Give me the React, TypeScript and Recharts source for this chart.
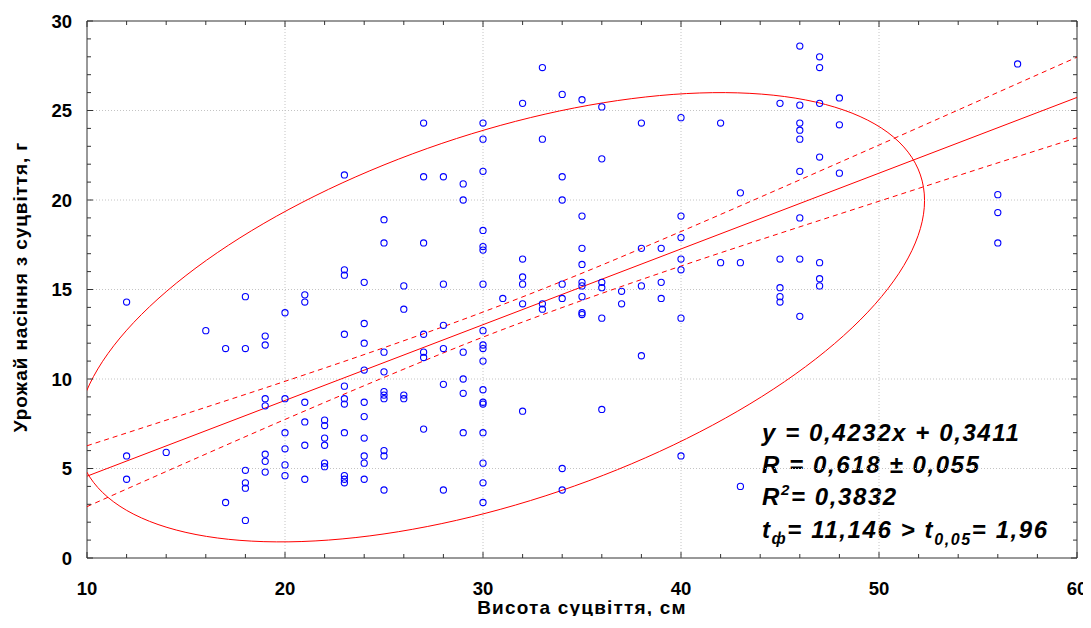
import React from 'react';
import {
  ComposedChart,
  XAxis,
  YAxis,
  Scatter,
  Line,
  ReferenceLine,
  ReferenceArea,
  Customized,
} from 'recharts';

// ---- data ----
const HEIGHTS = [12, 14, 16, 17, 18, 19, 20, 21, 22, 23, 24, 25, 26, 27, 28, 29, 30, 31, 32, 33, 34, 35, 36, 37, 38, 39, 40, 42, 43, 45, 46, 47, 48, 56, 57];
const YIELDS = [
  [14.3, 5.7, 4.4],
  [5.9],
  [12.7],
  [11.7, 3.1],
  [14.6, 11.7, 4.9, 4.2, 3.9, 2.1],
  [12.4, 11.9, 8.9, 8.5, 5.8, 5.4, 4.8],
  [13.7, 8.9, 7.0, 6.1, 5.2, 4.6],
  [14.7, 14.3, 8.7, 7.6, 6.3, 4.4],
  [7.7, 7.4, 6.7, 6.3, 5.3, 5.1],
  [21.4, 16.1, 15.8, 12.5, 9.6, 8.9, 8.6, 7.0, 4.6, 4.4, 4.2],
  [15.4, 13.1, 12.0, 10.5, 8.7, 7.9, 6.7, 5.7, 5.3, 4.4],
  [18.9, 17.6, 11.5, 10.4, 9.3, 9.1, 8.9, 6.0, 5.7, 3.8],
  [15.2, 13.9, 9.1, 8.9],
  [24.3, 21.3, 17.6, 12.5, 11.5, 11.2, 7.2],
  [21.3, 15.3, 13.0, 11.7, 9.7, 3.8],
  [20.9, 20.0, 11.5, 10.0, 9.2, 7.0],
  [24.3, 23.4, 21.6, 18.3, 17.4, 17.2, 15.3, 12.7, 11.9, 11.7, 11.0, 9.4, 8.7, 8.6, 7.0, 5.3, 4.2, 3.1],
  [14.5],
  [25.4, 16.7, 15.7, 15.3, 14.2, 8.2],
  [27.4, 23.4, 14.2, 13.9],
  [25.9, 21.3, 20.0, 15.3, 14.5, 5.0, 3.8],
  [25.6, 19.1, 17.3, 16.4, 15.4, 15.2, 14.6, 13.7, 13.6],
  [25.2, 22.3, 15.4, 15.1, 13.4, 8.3],
  [14.9, 14.2],
  [24.3, 17.3, 15.2, 11.3],
  [17.3, 15.4, 14.5],
  [24.6, 19.1, 17.9, 16.7, 16.1, 13.4, 5.7],
  [24.3, 16.5],
  [20.4, 16.5, 4.0],
  [25.4, 16.7, 15.1, 14.6, 14.3],
  [28.6, 25.3, 24.3, 23.9, 23.4, 21.6, 19.0, 16.7, 13.5],
  [28.0, 27.4, 25.4, 22.4, 16.5, 15.6, 15.2],
  [25.7, 24.2, 21.5],
  [20.3, 19.3, 17.6],
  [27.6],
];

// regression line y = 0,4232x + 0,3411 (end points)
const FIT_X = [10, 60];
const FIT_Y = [4.57, 25.73];

// confidence band (dashed)
const BAND_X = [10, 15, 20, 25, 30, 35, 40, 45, 50, 55, 60];
const BAND_UPPER = [6.27, 8.06, 9.87, 11.75, 13.74, 15.91, 18.24, 20.64, 23.07, 25.52, 27.98];
const BAND_LOWER = [2.87, 5.32, 7.74, 10.09, 12.34, 14.39, 16.31, 18.14, 19.93, 21.72, 23.48];

// confidence ellipse: centre, half extents, phase (deg)
const ELLIPSE_CENTER = [30.9, 13.45];
const ELLIPSE_RADII = [21.4, 12.55];
const ELLIPSE_PHASE = 58.7;

const X_TICKS = [10, 12, 14, 16, 18, 20, 22, 24, 26, 28, 30, 32, 34, 36, 38, 40, 42, 44, 46, 48, 50, 52, 54, 56, 58, 60];
const Y_TICKS = [0, 1, 2, 3, 4, 5, 6, 7, 8, 9, 10, 11, 12, 13, 14, 15, 16, 17, 18, 19, 20, 21, 22, 23, 24, 25, 26, 27, 28, 29, 30];
const X_GRID = [20, 30, 40, 50];
const Y_GRID = [5, 10, 15, 20, 25];

// ---- derived tables ----
const scatterData = HEIGHTS.flatMap((h, i) => YIELDS[i].map((v) => ({ x: h, y: v })));
const fitData = FIT_X.map((x, i) => ({ x, y: FIT_Y[i] }));
const upperData = BAND_X.map((x, i) => ({ x, y: BAND_UPPER[i] }));
const lowerData = BAND_X.map((x, i) => ({ x, y: BAND_LOWER[i] }));
const ellipseData = Array.from({ length: 181 }, (_, k) => {
  const t = (k * 2 * Math.PI) / 180;
  const d = (ELLIPSE_PHASE * Math.PI) / 180;
  return {
    x: ELLIPSE_CENTER[0] + ELLIPSE_RADII[0] * Math.cos(t),
    y: ELLIPSE_CENTER[1] + ELLIPSE_RADII[1] * Math.cos(t - d),
  };
});

// ---- layout ----
const W = 1075;
const H = 608;
const PL = 79;
const PT = 13;
const PR = 1069;
const PB = 550;
const FONT = 'Liberation Sans, Arial, sans-serif';
const AXIS = '#333';

const XTick = (props: any) => {
  const { x, payload } = props;
  const v = payload.value;
  const major = v % 10 === 0;
  const len = major ? 6 : 4;
  return (
    <g>
      <line x1={x} y1={PB} x2={x} y2={PB - len} stroke={AXIS} strokeWidth={1} />
      <line x1={x} y1={PT} x2={x} y2={PT + len} stroke={AXIS} strokeWidth={1} />
      {major && (
        <text x={x} y={587} textAnchor="middle" fontFamily={FONT} fontWeight="bold" fontSize={18.5} fill="#000">
          {v}
        </text>
      )}
    </g>
  );
};

const YTick = (props: any) => {
  const { y, payload } = props;
  const v = payload.value;
  const major = v % 5 === 0;
  const len = major ? 6 : 4;
  return (
    <g>
      <line x1={PL} y1={y} x2={PL + len} y2={y} stroke={AXIS} strokeWidth={1} />
      <line x1={PR} y1={y} x2={PR - len} y2={y} stroke={AXIS} strokeWidth={1} />
      {major && (
        <text x={PL - 15} y={y + 6.5} textAnchor="end" fontFamily={FONT} fontWeight="bold" fontSize={18.5} fill="#000">
          {v}
        </text>
      )}
    </g>
  );
};

const Dot = (props: any) => {
  const { cx, cy } = props;
  if (cx == null || cy == null) return null;
  return <circle cx={cx} cy={cy} r={3.1} fill="none" stroke="#0000ff" strokeWidth={1.1} />;
};

const Texts = () => (
  <g>
    <text
      transform="translate(19,279) rotate(-90)"
      textAnchor="middle"
      fontFamily={FONT}
      fontWeight="bold"
      fontSize={19}
      letterSpacing={0.9}
      fill="#000"
    >
      Урожай насіння з суцвіття, г
    </text>
    <text x={574} y={606} textAnchor="middle" fontFamily={FONT} fontWeight="bold" fontSize={19} letterSpacing={1.2} fill="#000">
      Висота суцвіття, см
    </text>
    <g fontFamily={FONT} fontWeight="bold" fontStyle="italic" fontSize={24} letterSpacing={1.6} fill="#000">
      <text x={754} y={433}>y = 0,4232x + 0,3411</text>
      <text x={754} y={465}>R = 0,618 ± 0,055</text>
      <text x={754} y={497}>
        R<tspan fontSize={15} dy={-10}>2</tspan>
        <tspan dy={10}>= 0,3832</tspan>
      </text>
      <text x={754} y={530}>
        t<tspan fontSize={16} dy={6}>ф</tspan>
        <tspan dy={-6}>= 11,146 &gt; t</tspan>
        <tspan fontSize={16} dy={7}>0,05</tspan>
        <tspan dy={-7}>= 1,96</tspan>
      </text>
    </g>
  </g>
);

export default function App() {
  return (
    <div style={{ width: W, height: H, overflow: 'visible' }}>
      <style>{'.recharts-wrapper, .recharts-surface { overflow: visible !important; }'}</style>
      <ComposedChart
        width={W}
        height={H}
        margin={{ top: PT, right: W - PR, bottom: 0, left: 0 }}
        style={{ overflow: 'visible' }}
      >
        <XAxis
          type="number"
          dataKey="x"
          domain={[10, 60]}
          ticks={X_TICKS}
          interval={0}
          allowDataOverflow
          tick={<XTick />}
          tickLine={false}
          axisLine={false}
          height={H - PB}
        />
        <YAxis
          type="number"
          dataKey="y"
          domain={[0, 30]}
          ticks={Y_TICKS}
          interval={0}
          allowDataOverflow
          tick={<YTick />}
          tickLine={false}
          axisLine={false}
          width={PL}
        />
        {X_GRID.map((v) => (
          <ReferenceLine key={'gx' + v} x={v} stroke="#c4c4c4" strokeDasharray="1 2" />
        ))}
        {Y_GRID.map((v) => (
          <ReferenceLine key={'gy' + v} y={v} stroke="#c4c4c4" strokeDasharray="1 2" />
        ))}
        <ReferenceArea x1={10} x2={60} y1={0} y2={30} fill="none" fillOpacity={0} stroke={AXIS} strokeWidth={1} />
        <Line data={ellipseData} dataKey="y" type="linear" stroke="#ff0000" strokeWidth={1} dot={false} isAnimationActive={false} />
        <Line data={upperData} dataKey="y" type="monotone" stroke="#ff0000" strokeWidth={1} strokeDasharray="5 4" dot={false} isAnimationActive={false} />
        <Line data={lowerData} dataKey="y" type="monotone" stroke="#ff0000" strokeWidth={1} strokeDasharray="5 4" dot={false} isAnimationActive={false} />
        <Line data={fitData} dataKey="y" type="linear" stroke="#ff0000" strokeWidth={1} dot={false} isAnimationActive={false} />
        <Scatter data={scatterData} dataKey="y" shape={<Dot />} isAnimationActive={false} />
        <Customized component={Texts} />
      </ComposedChart>
    </div>
  );
}
